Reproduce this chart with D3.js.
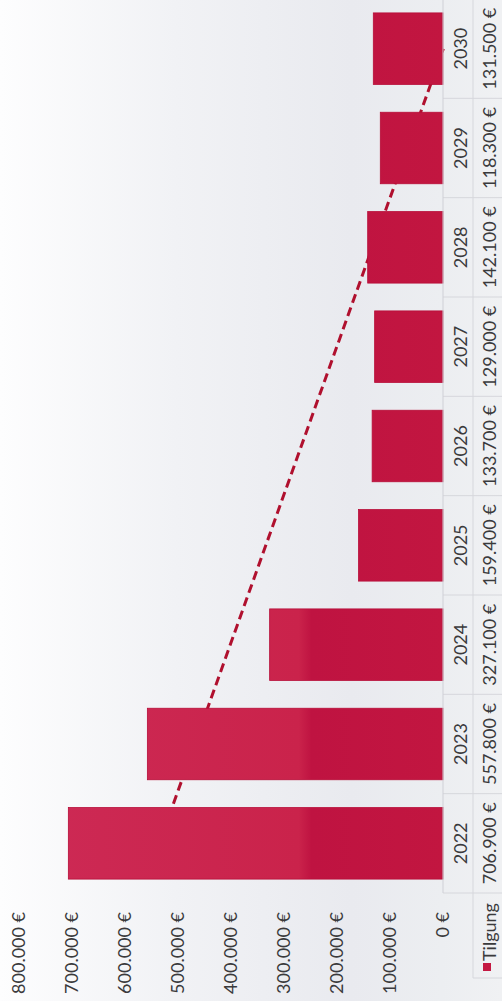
<!DOCTYPE html>
<html>
<head>
<meta charset="utf-8">
<script src="https://cdn.jsdelivr.net/npm/d3@7"></script>
<style>
  html, body { margin: 0; padding: 0; background: #f4f5f7; }
  svg { display: block; }
  text { font-family: Lato, "Open Sans", sans-serif; fill: #3a3a3c; }
</style>
</head>
<body>
<svg id="chart" width="502" height="1001"></svg>
<script>
// ---- data ----
const years = ["2022", "2023", "2024", "2025", "2026", "2027", "2028", "2029", "2030"];
const tilgung = [706900, 557800, 327100, 159400, 133700, 129000, 142100, 118300, 131500];
const tickValues = [0, 100000, 200000, 300000, 400000, 500000, 600000, 700000, 800000];
const seriesName = "Tilgung";

const W = 502, H = 1001;
const svg = d3.select("#chart");
const defs = svg.append("defs");

// paper background (scan shading)
const bg = defs.append("linearGradient").attr("id", "bg")
  .attr("gradientUnits", "userSpaceOnUse").attr("x1", 0).attr("y1", 0).attr("x2", W).attr("y2", 0);
[[0, "#fdfdfe"], [0.35, "#f1f2f5"], [0.7, "#e9eaef"], [0.88, "#eceef1"], [1, "#f0f1f3"]]
  .forEach(([o, c]) => bg.append("stop").attr("offset", o).attr("stop-color", c));
svg.append("rect").attr("width", W).attr("height", H).attr("fill", "url(#bg)");

const de = d3.formatLocale({decimal: ",", thousands: ".", grouping: [3], currency: ["", " €"]});
const fmt = v => de.format(",.0f")(v) + " €";

// Chart built as an ordinary column chart, then rotated -90°
const g = svg.append("g").attr("transform", `translate(0,${H}) rotate(-90)`);

const x = d3.scaleBand().domain(years).range([108, 1002]).paddingInner(0.28).paddingOuter(0.14);
const y = d3.scaleLinear().domain([0, 800000]).range([443, 19]);

const barGrad = defs.append("linearGradient").attr("id", "barGrad")
  .attr("gradientUnits", "userSpaceOnUse").attr("x1", 0).attr("y1", y(800000)).attr("x2", 0).attr("y2", y(0));
[[0, "#cd2a55"], [0.66, "#ca234b"], [0.69, "#bf1341"], [1, "#c21640"]]
  .forEach(([o, c]) => barGrad.append("stop").attr("offset", o).attr("stop-color", c));

// linear trend line (least squares over the series), drawn behind the bars
const n = tilgung.length;
const xs = d3.range(n);
const mx = d3.mean(xs), my = d3.mean(tilgung);
const slope = d3.sum(xs, i => (i - mx) * (tilgung[i] - my)) / d3.sum(xs, i => (i - mx) ** 2);
const icpt = my - slope * mx;
const trend = [0, n - 1].map(i => [x(years[i]) + x.bandwidth() / 2, y(icpt + slope * i)]);
g.append("path").attr("d", d3.line()(trend))
  .attr("fill", "none").attr("stroke", "#b0102e").attr("stroke-width", 3)
  .attr("stroke-dasharray", "9,5");

// bars
g.selectAll("rect.bar").data(years).join("rect")
  .attr("class", "bar")
  .attr("x", d => x(d))
  .attr("width", x.bandwidth())
  .attr("y", (d, i) => y(tilgung[i]))
  .attr("height", (d, i) => y(0) - y(tilgung[i]))
  .attr("fill", "url(#barGrad)")
  .attr("stroke", "#b70d38").attr("stroke-width", 0.8);

// value axis labels (no line)
const yAxis = d3.axisLeft(y).tickValues(tickValues).tickFormat(fmt).tickSize(0).tickPadding(0);
const ya = g.append("g").attr("transform", "translate(89,0)").call(yAxis);
ya.select(".domain").remove();
ya.selectAll("text").attr("font-size", 18).attr("fill", "#3a3a3c")
  .style("font-family", "Lato, 'Open Sans', sans-serif");

// data table below the chart
const step = x.step();
const t0 = y(0), t1 = 473, t2 = 504;
const lineColor = "#d6d7dc";
const bounds = years.map(d => x(d) - step * x.paddingInner() / 2).concat([x(years[years.length - 1]) + x.bandwidth() + step * x.paddingInner() / 2]);
g.append("g").selectAll("line").data(bounds).join("line")
  .attr("x1", d => d).attr("x2", d => d).attr("y1", t0).attr("y2", t2)
  .attr("stroke", lineColor).attr("stroke-width", 1);
g.append("line").attr("x1", 23).attr("x2", bounds[bounds.length - 1]).attr("y1", t1).attr("y2", t1)
  .attr("stroke", lineColor);
g.append("line").attr("x1", bounds[0]).attr("x2", bounds[bounds.length - 1]).attr("y1", t0).attr("y2", t0)
  .attr("stroke", "#cfd0d6");
g.append("line").attr("x1", 23).attr("x2", 23).attr("y1", t1).attr("y2", t2).attr("stroke", lineColor);

g.append("g").selectAll("text").data(years).join("text")
  .attr("x", d => x(d) + x.bandwidth() / 2).attr("y", 461).attr("dy", "0.35em")
  .attr("text-anchor", "middle").attr("font-size", 18).text(d => d);
g.append("g").selectAll("text").data(tilgung).join("text")
  .attr("x", (d, i) => x(years[i]) + x.bandwidth() / 2).attr("y", 490).attr("dy", "0.35em")
  .attr("text-anchor", "middle").attr("font-size", 18).text(d => fmt(d));

// legend
g.append("rect").attr("x", 30).attr("y", 483).attr("width", 8).attr("height", 8)
  .attr("fill", "#c41842");
g.append("text").attr("x", 40).attr("y", 490).attr("dy", "0.35em").attr("font-size", 18)
  .text(seriesName);
</script>
</body>
</html>
